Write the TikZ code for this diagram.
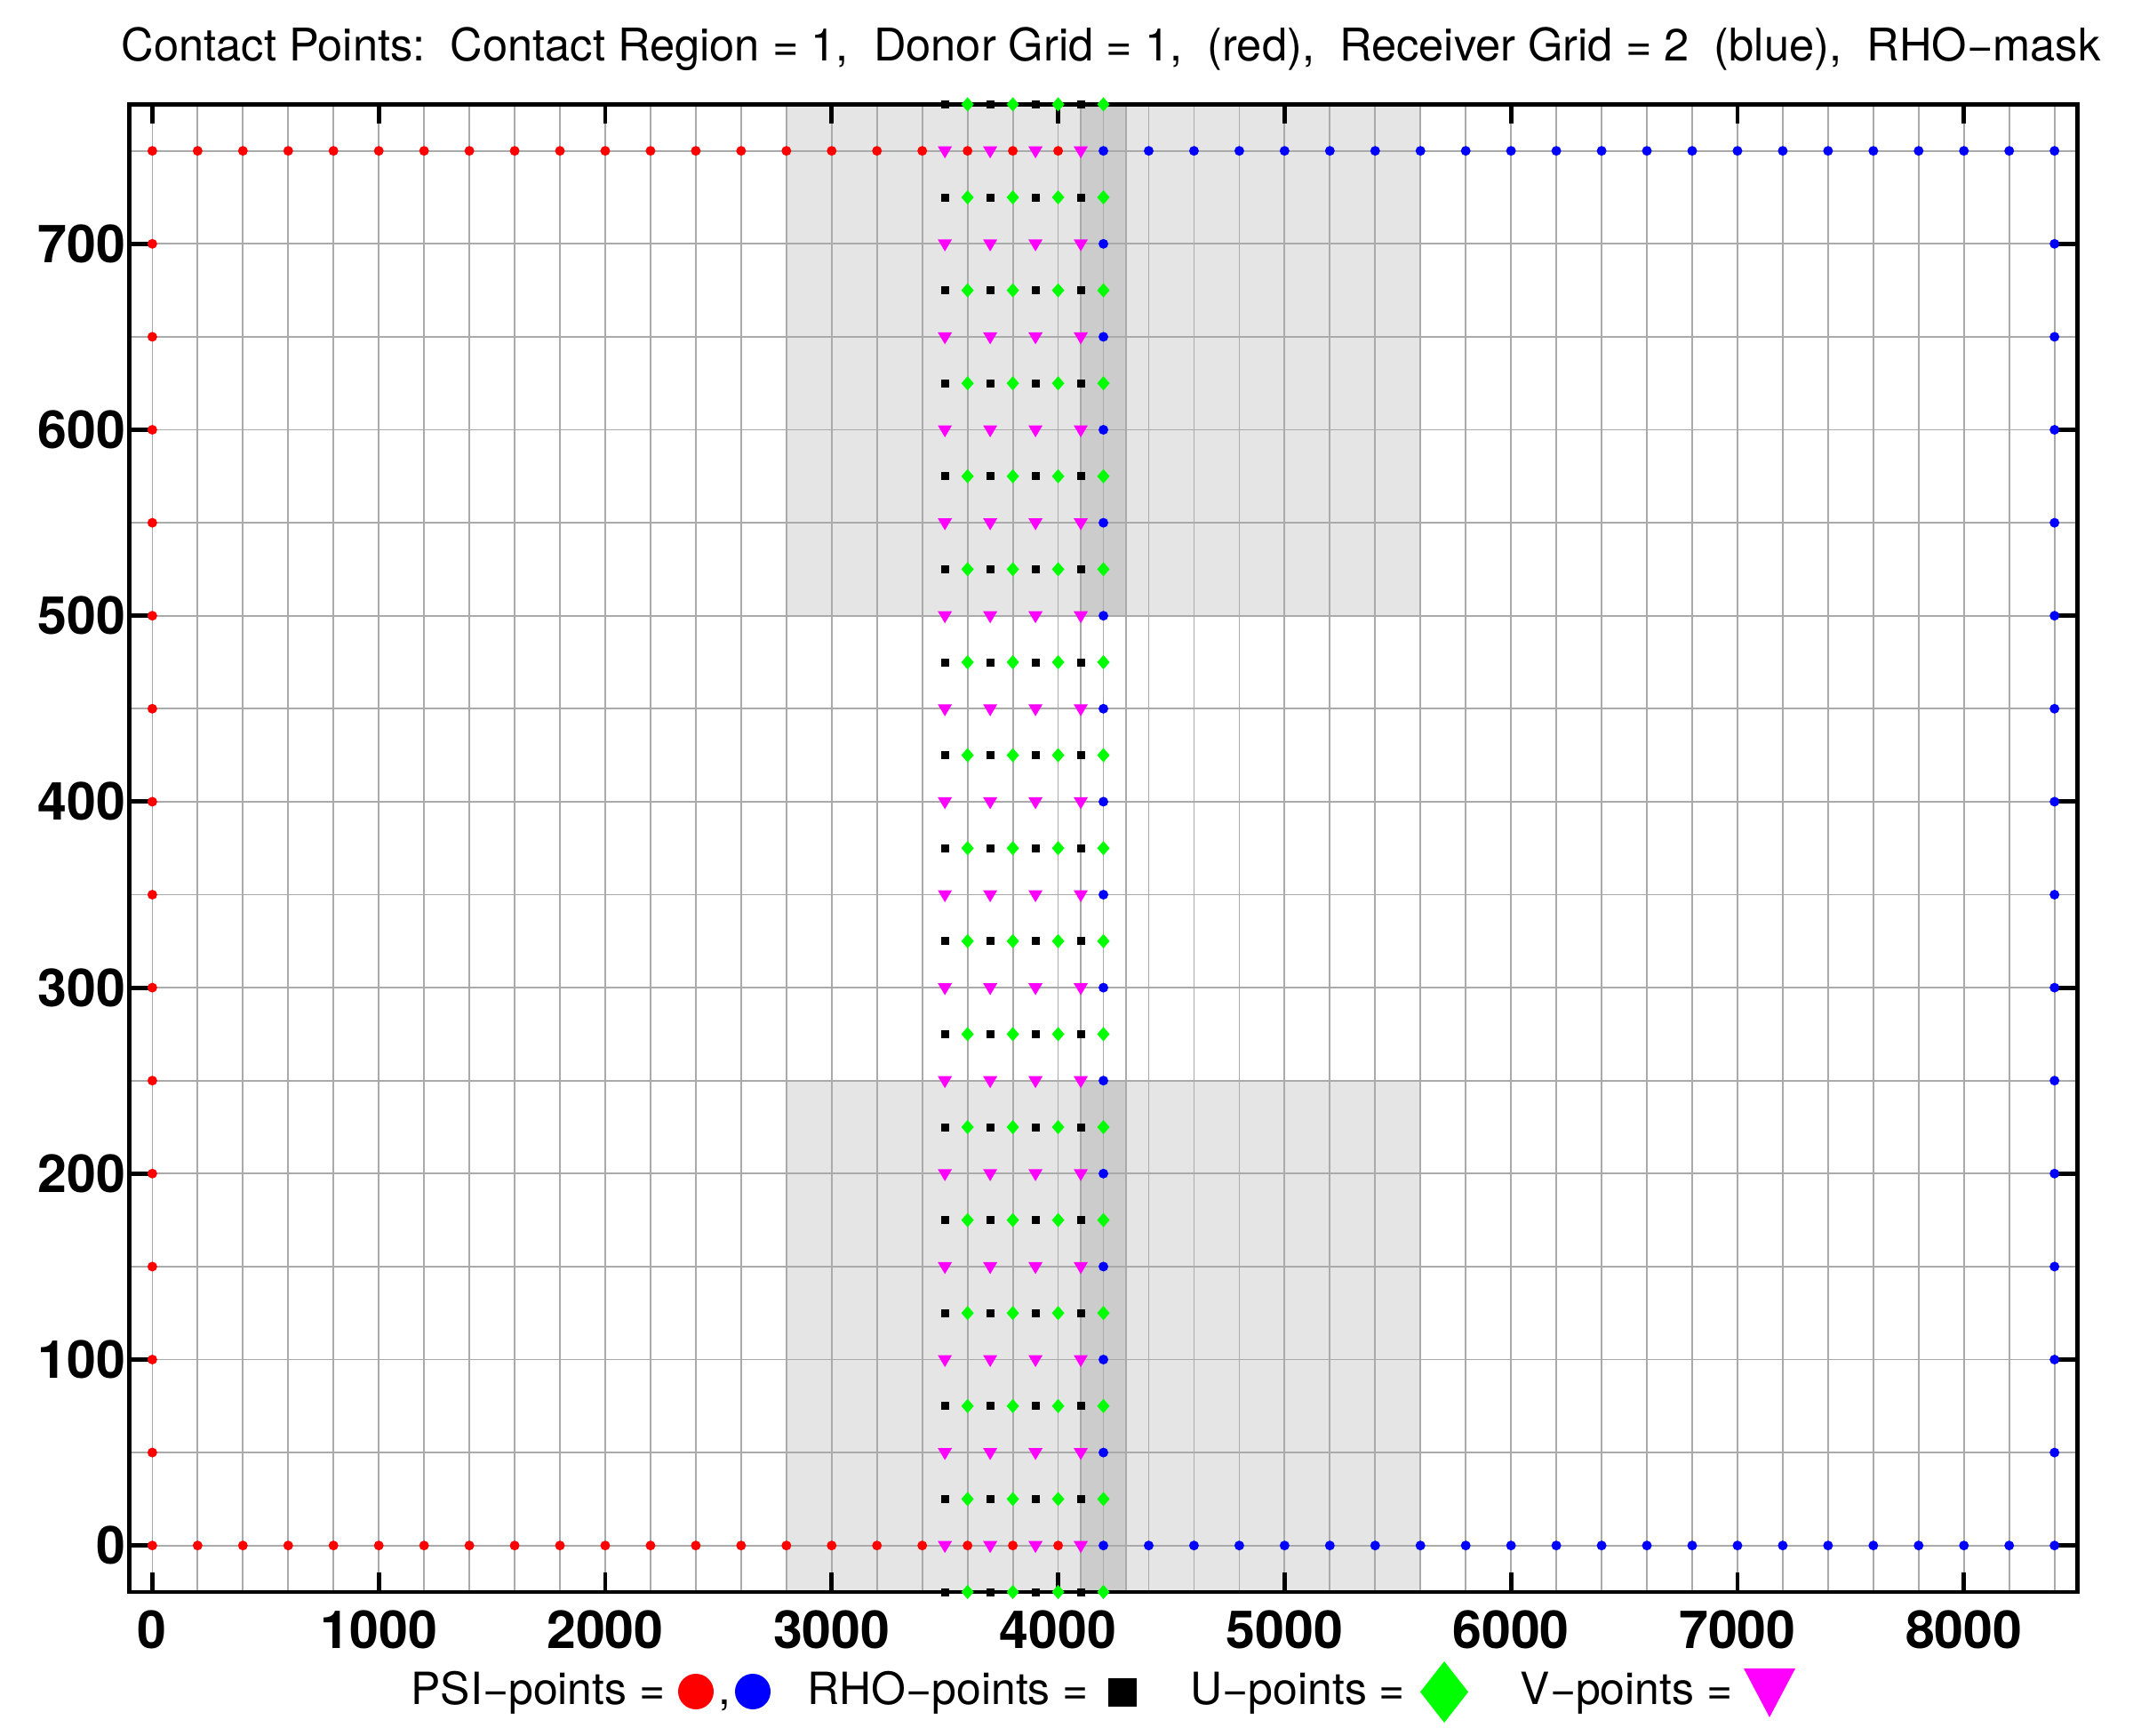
\documentclass[tikz,border=0pt]{standalone}
\usepackage{fontspec}
\setmainfont{TeX Gyre Heros}
\usepackage{tikz}
\frenchspacing

\definecolor{gridgray}{RGB}{170,170,170}
\definecolor{maskgray}{RGB}{229,229,229}
\definecolor{maskdark}{RGB}{204,204,204}
\definecolor{ugreen}{RGB}{0,255,0}
\definecolor{vmag}{RGB}{255,0,255}

% markers of the four point types
\newcommand{\psidot}[3]{\fill[#1] (#2,#3) circle[radius=0.055cm];}
\newcommand{\rhosq}[2]{\fill[black] (#1,#2) ++(-0.045cm,-0.045cm) rectangle ++(0.09cm,0.09cm);}
\newcommand{\udia}[2]{\fill[ugreen] (#1,#2) ++(0.07cm,0) -- ++(-0.07cm,0.08cm) -- ++(-0.07cm,-0.08cm) -- ++(0.07cm,-0.08cm) -- cycle;}
\newcommand{\vtri}[2]{\fill[vmag] (#1,#2) ++(-0.08cm,0.05cm) -- ++(0.16cm,0) -- ++(-0.08cm,-0.135cm) -- cycle;}

\tikzset{
  ticklab/.style={font=\fontsize{16.8}{20}\selectfont\bfseries, inner sep=0pt},
  lbl/.style={font=\fontsize{14.2}{17}\selectfont, inner sep=0pt, anchor=base west},
  gridline/.style={draw=gridgray, line width=0.5pt},
  axisline/.style={line width=1.4pt},
}

\begin{document}
\begin{tikzpicture}
\useasboundingbox (0,0) rectangle (24,19.52);

\node[lbl, font=\fontsize{14.4}{17}\selectfont] (title) at (1.36,18.83) {Contact Points:~ Contact Region = 1,~ Donor Grid = 1,~ (red),~ Receiver Grid = 2~ (blue),~ RHO−mask};

\begin{scope}[shift={(1.714,2.133)}, x=0.0025407cm, y=0.020925cm]
    % rho mask
    \fill[maskgray] (2800,500) rectangle (5600,775);
    \fill[maskgray] (2800,-25) rectangle (5600,250);
    \fill[maskdark] (4100,500) rectangle (4300,775);
    \fill[maskdark] (4100,-25) rectangle (4300,250);

    % grid lines
    \foreach \x in {0,200,...,8400} {\draw[gridline] (\x,-25) -- (\x,775);}
    \foreach \x in {4100,4300} {\draw[gridline] (\x,-25) -- (\x,775);}
    \foreach \y in {0,50,...,750} {\draw[gridline] (-100,\y) -- (8500,\y);}

    % axes and ticks
    \draw[axisline] (-100,-25) rectangle (8500,775);
    \foreach \x in {0,1000,...,8000} {
        \draw[axisline] (\x,-25) -- ++(0,0.22cm);
        \draw[axisline] (\x,775) -- ++(0,-0.22cm);
        \node[ticklab, anchor=base, yshift=-0.637cm] (xl\x) at (\x,-25) {\x};
    }
    \foreach \y in {0,100,...,700} {
        \draw[axisline] (-100,\y) -- ++(0.22cm,0);
        \draw[axisline] (8500,\y) -- ++(-0.22cm,0);
        \node[ticklab, anchor=base east, xshift=-0.04cm, yshift=-0.21cm] (yl\y) at (-100,\y) {\y};
    }

    % psi points, donor (red) and receiver (blue)
    \foreach \x in {0,200,...,4000} {\psidot{red}{\x}{0} \psidot{red}{\x}{750}}
    \foreach \y in {50,100,...,700} {\psidot{red}{0}{\y}}
    \foreach \x in {4200,4400,...,8400} {\psidot{blue}{\x}{0} \psidot{blue}{\x}{750}}
    \foreach \y in {50,100,...,700} {\psidot{blue}{4200}{\y} \psidot{blue}{8400}{\y}}

    % rho, u and v points
    \foreach \x in {3500,3700,3900,4100} {
        \foreach \y in {-25,25,...,775} {\rhosq{\x}{\y}}
    }
    \foreach \x in {3600,3800,4000,4200} {
        \foreach \y in {-25,25,...,775} {\udia{\x}{\y}}
    }
    \foreach \x in {3500,3700,3900,4100} {
        \foreach \y in {0,50,...,750} {\vtri{\x}{\y}}
    }
\end{scope}

% legend
\node[lbl] (psitxt) at (4.62,0.35) {PSI−points =};
\fill[red] (7.83,0.49) circle[radius=0.2];
\node[lbl] (comma) at (8.08,0.35) {,};
\fill[blue] (8.47,0.49) circle[radius=0.2];
\node[lbl] (rhotxt) at (9.08,0.35) {RHO−points =};
\fill[black] (12.47,0.325) rectangle (12.79,0.645);
\node[lbl] (utxt) at (13.39,0.35) {U−points =};
\fill[ugreen] (16.52,0.485) -- (16.25,0.83) -- (15.98,0.485) -- (16.25,0.14) -- cycle;
\node[lbl] (vtxt) at (17.10,0.35) {V−points =};
\fill[vmag] (19.62,0.75) -- (20.20,0.75) -- (19.91,0.20) -- cycle;

\end{tikzpicture}
\end{document}
